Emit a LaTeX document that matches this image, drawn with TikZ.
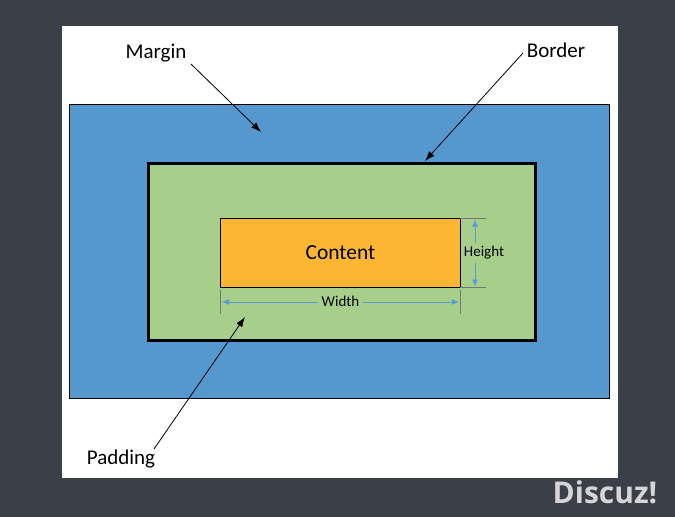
\documentclass[tikz,border=0pt]{standalone}
\usepackage{fontspec}
\setmainfont{Carlito}
\newfontfamily\logofont{Open Sans}
\usetikzlibrary{arrows.meta, positioning}
\definecolor{pagebg}{RGB}{59,63,71}
\definecolor{marginblue}{RGB}{85,152,206}
\definecolor{paddinggreen}{RGB}{168,206,140}
\definecolor{contentorange}{RGB}{253,181,52}
\definecolor{dimblue}{RGB}{91,155,213}
\definecolor{extgray}{RGB}{118,118,118}
\definecolor{logogray}{RGB}{214,214,214}

\begin{document}
\begin{tikzpicture}[
    x=1pt, y=-1pt,
    box/.style={anchor=north west, inner sep=0pt, outer sep=0pt},
    marginbox/.style={box, draw=black, line width=0.8pt, fill=marginblue},
    borderbox/.style={box, draw=black, line width=3pt, fill=paddinggreen},
    contentbox/.style={box, draw=black, line width=0.8pt, fill=contentorange,
        font=\fontsize{21.5}{25}\selectfont},
    label/.style={inner sep=1pt, font=\fontsize{21}{25}\selectfont},
    dimlabel/.style={inner xsep=4pt, inner ysep=2pt, font=\fontsize{15}{18}\selectfont},
    pointer/.style={-{Latex[length=10pt, width=7pt]}, line width=0.8pt, draw=black},
    dimtip/.style={-{Latex[length=7pt, width=6pt]}, line width=0.8pt, draw=dimblue},
    extline/.style={line width=0.8pt, draw=extgray}
]
\useasboundingbox (0,0) rectangle (675,517);
\fill[pagebg] (0,0) rectangle (675,517);

% White sheet
\node[box, fill=white, minimum width=556pt, minimum height=452pt] (sheet) at (62,26) {};

% Nested boxes
\node[marginbox, minimum width=540pt, minimum height=294pt] (M) at (69.5,104.5) {};
\node[borderbox, minimum width=387pt, minimum height=177pt] (B) at (148,163.5) {};
\node[contentbox, minimum width=239.5pt, minimum height=68.5pt] (C) at (220.75,218.75) {Content};

% Height dimension
\coordinate (hT) at (486,218.75);
\coordinate (hB) at (486,287.25);
\draw[extline] (C.north east) -- (hT);
\draw[extline] (C.south east) -- (hB);
\node[dimlabel, inner xsep=1pt, inner ysep=3pt] (H) at (484,253) {Height};
\coordinate (hA) at (475,219.5);
\coordinate (hZ) at (475,286.5);
\draw[dimtip] (H.north -| hA) -- (hA);
\draw[dimtip] (H.south -| hZ) -- (hZ);

% Width dimension
\coordinate (wL) at (220.75,314);
\coordinate (wR) at (460.25,314);
\draw[extline] (220.75,289.5) -- (wL);
\draw[extline] (460.25,289.5) -- (wR);
\node[dimlabel] (W) at (340.5,301.5) {Width};
\coordinate (wA) at (222,302);
\coordinate (wZ) at (459,302);
\draw[dimtip] (W.west |- wA) -- (wA);
\draw[dimtip] (W.east |- wZ) -- (wZ);

% Labels and pointers
\node[label] (lM) at (156,53) {Margin};
\node[label] (lB) at (556,50) {Border};
\node[label] (lP) at (121,459) {Padding};
\coordinate (pM) at (261,132);
\coordinate (pB) at (425,161);
\coordinate (pP) at (245,317);
\draw[pointer] (191,64) -- (pM);
\draw[pointer] (523,53) -- (pB);
\draw[pointer] (154,449) -- (pP);

% Watermark
\node[font=\logofont\bfseries\fontsize{30}{34}\selectfont, text=logogray, inner sep=0pt] (logo) at (605,492) {Discuz!};
\end{tikzpicture}
\end{document}
